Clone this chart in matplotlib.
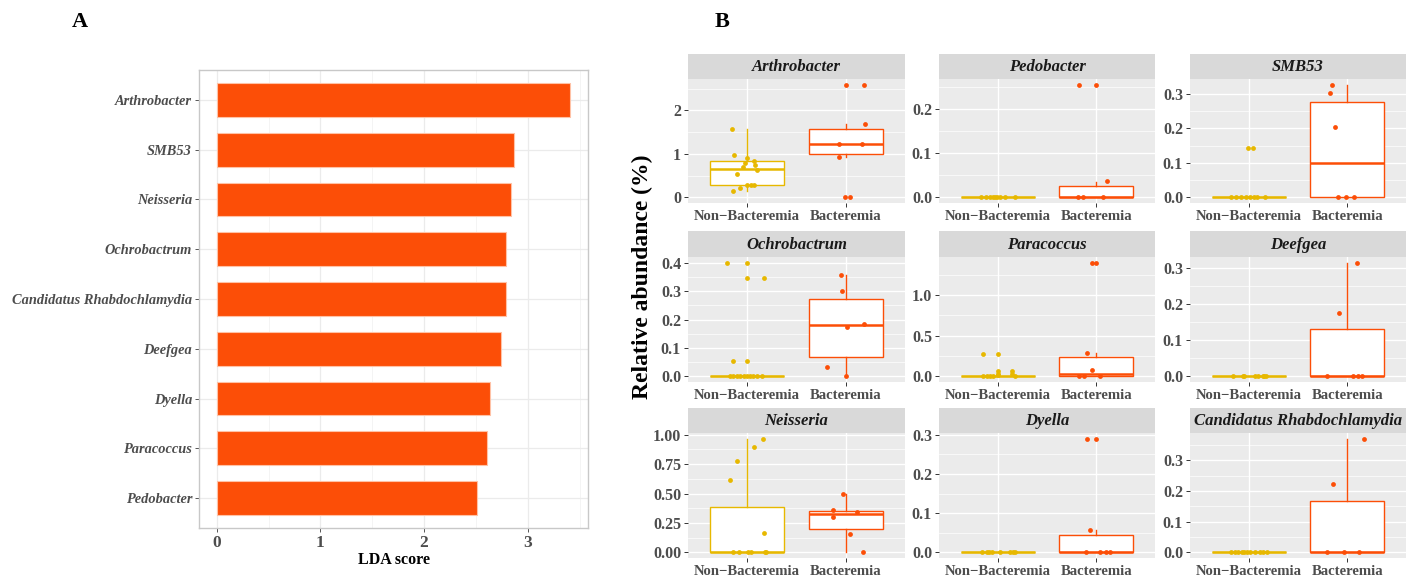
import numpy as np
import matplotlib
matplotlib.use("Agg")
import matplotlib.pyplot as plt

plt.rcParams['font.family'] = ['Liberation Serif', 'DejaVu Serif']

W, H = 1421, 579
ORANGE = '#FC4E07'
GOLD = '#E7B800'
TXT = '#4D4D4D'

# ---- panel A: LDA scores ----
lda_genera = ['Arthrobacter', 'SMB53', 'Neisseria', 'Ochrobactrum',
              'Candidatus Rhabdochlamydia', 'Deefgea', 'Dyella', 'Paracoccus', 'Pedobacter']
lda_scores = [3.41, 2.87, 2.84, 2.79, 2.79, 2.74, 2.64, 2.61, 2.51]

# ---- panel B: relative abundance per genus ----
groups = ['Non\u2212Bacteremia', 'Bacteremia']
facet_genera = ['Arthrobacter', 'Pedobacter', 'SMB53',
                'Ochrobactrum', 'Paracoccus', 'Deefgea',
                'Neisseria', 'Dyella', 'Candidatus Rhabdochlamydia']

# box stats: [lower whisker, q1, median, q3, upper whisker]
box_nonbac = {
    'Arthrobacter': [0.155, 0.275, 0.66, 0.83, 1.57],
    'Pedobacter': [0, 0, 0, 0, 0],
    'SMB53': [0, 0, 0, 0, 0],
    'Ochrobactrum': [0, 0, 0, 0, 0],
    'Paracoccus': [0, 0, 0, 0.01, 0.015],
    'Deefgea': [0, 0, 0, 0, 0],
    'Neisseria': [0, 0, 0, 0.389, 0.966],
    'Dyella': [0, 0, 0, 0, 0],
    'Candidatus Rhabdochlamydia': [0, 0, 0, 0, 0],
}
box_bac = {
    'Arthrobacter': [0.93, 1.0, 1.225, 1.57, 1.69],
    'Pedobacter': [0, 0, 0, 0.026, 0.035],
    'SMB53': [0, 0, 0.1, 0.277, 0.327],
    'Ochrobactrum': [0, 0.068, 0.179, 0.273, 0.356],
    'Paracoccus': [0, 0.004, 0.033, 0.242, 0.29],
    'Deefgea': [0, 0, 0, 0.131, 0.314],
    'Neisseria': [0, 0.194, 0.323, 0.354, 0.5],
    'Dyella': [0, 0, 0, 0.043, 0.056],
    'Candidatus Rhabdochlamydia': [0, 0, 0, 0.166, 0.37],
}

# jittered sample points (horizontal offset from the group centre, value)
nonbac_dx = {
    'Arthrobacter': [-0.15, -0.135, 0, -0.02, 0.065, -0.045, 0.08, 0.1, -0.105, -0.07, -0.145, 0, 0.04, 0.065],
    'Pedobacter': [-0.17, -0.12, -0.08, -0.05, -0.03, -0.01, 0.02, 0.07, 0.17],
    'SMB53': [-0.18, -0.13, -0.085, -0.03, 0.01, 0.05, 0.08, 0.16, -0.005, 0.045],
    'Ochrobactrum': [-0.2, 0, 0, 0.17, -0.14, 0, -0.17, -0.14, -0.105, -0.07, -0.037, -0.003, 0.03, 0.064, 0.098, 0.149],
    'Paracoccus': [-0.15, 0, -0.155, -0.115, -0.08, -0.047, 0.17, 0, 0, 0, 0.145, 0.145],
    'Deefgea': [-0.16, -0.065, -0.05, 0.065, 0.095, 0.14, 0.155, 0.17],
    'Neisseria': [-0.17, -0.1, 0.07, 0.165, 0.17, -0.14, -0.08, 0.005, 0.035, 0.18, 0.19],
    'Dyella': [-0.166, -0.108, -0.088, -0.064, 0.02, 0.122, 0.149, 0.173],
    'Candidatus Rhabdochlamydia': [-0.183, -0.142, -0.108, -0.075, -0.047, -0.024, 0.01, 0.061, 0.112, 0.146, 0.18],
}
nonbac_y = {
    'Arthrobacter': [1.57, 0.965, 0.90, 0.80, 0.84, 0.70, 0.735, 0.635, 0.535, 0.215, 0.155, 0.275, 0.275, 0.275],
    'Pedobacter': [0, 0, 0, 0, 0, 0, 0, 0, 0],
    'SMB53': [0, 0, 0, 0, 0, 0, 0, 0, 0.142, 0.142],
    'Ochrobactrum': [0.4, 0.4, 0.345, 0.345, 0.053, 0.053, 0, 0, 0, 0, 0, 0, 0, 0, 0, 0],
    'Paracoccus': [0.279, 0.279, 0, 0, 0, 0, 0, 0.062, 0.033, 0.012, 0.062, 0.033],
    'Deefgea': [0, 0, 0, 0, 0, 0, 0, 0],
    'Neisseria': [0.617, 0.78, 0.897, 0.966, 0.163, 0, 0, 0, 0, 0, 0],
    'Dyella': [0, 0, 0, 0, 0, 0, 0, 0],
    'Candidatus Rhabdochlamydia': [0, 0, 0, 0, 0, 0, 0, 0, 0, 0, 0],
}
bac_dx = {
    'Arthrobacter': [0, 0.185, 0.195, -0.065, 0.165, -0.07, -0.007, 0.045],
    'Pedobacter': [-0.17, 0, 0.115, -0.18, -0.13, 0.07],
    'SMB53': [-0.15, -0.17, -0.125, -0.09, -0.015, 0.07],
    'Ochrobactrum': [-0.05, -0.035, 0.01, 0.18, -0.195, 0],
    'Paracoccus': [-0.037, 0, -0.09, -0.037, -0.176, -0.125, 0.037],
    'Deefgea': [0.1, -0.08, -0.2, 0.06, 0.11, 0.15],
    'Neisseria': [-0.03, -0.13, -0.13, 0.11, 0.045, 0.175],
    'Dyella': [-0.095, 0, -0.058, -0.105, 0.044, 0.105, 0.139],
    'Candidatus Rhabdochlamydia': [0.176, -0.139, -0.2, -0.03, 0.12],
}
bac_y = {
    'Arthrobacter': [2.59, 2.59, 1.69, 1.225, 1.225, 0.93, 0, 0],
    'Pedobacter': [0.255, 0.255, 0.036, 0, 0, 0],
    'SMB53': [0.327, 0.303, 0.203, 0, 0, 0],
    'Ochrobactrum': [0.356, 0.302, 0.172, 0.185, 0.032, 0],
    'Paracoccus': [1.40, 1.40, 0.29, 0.083, 0, 0, 0],
    'Deefgea': [0.314, 0.175, 0, 0, 0, 0],
    'Neisseria': [0.5, 0.36, 0.3, 0.343, 0.157, 0],
    'Dyella': [0.29, 0.29, 0.058, 0, 0, 0, 0],
    'Candidatus Rhabdochlamydia': [0.37, 0.221, 0, 0, 0],
}
y_ticks = {
    'Arthrobacter': ['0', '1', '2'],
    'Pedobacter': ['0.0', '0.1', '0.2'],
    'SMB53': ['0.0', '0.1', '0.2', '0.3'],
    'Ochrobactrum': ['0.0', '0.1', '0.2', '0.3', '0.4'],
    'Paracoccus': ['0.0', '0.5', '1.0'],
    'Deefgea': ['0.0', '0.1', '0.2', '0.3'],
    'Neisseria': ['0.00', '0.25', '0.50', '0.75', '1.00'],
    'Dyella': ['0.0', '0.1', '0.2', '0.3'],
    'Candidatus Rhabdochlamydia': ['0.0', '0.1', '0.2', '0.3'],
}


def px_axes(fig, l, t, r, b):
    return fig.add_axes([l / W, 1 - b / H, (r - l) / W, (b - t) / H])


fig = plt.figure(figsize=(W / 100, H / 100), dpi=100)

# ---------------- panel A ----------------
axA = px_axes(fig, 199, 70, 588, 528)
ypos = np.arange(len(lda_genera))[::-1] + 1
axA.barh(ypos, lda_scores, height=0.68, color=ORANGE, edgecolor='#FFC2A6', linewidth=0.8, zorder=3)
axA.set_xlim(-0.05 * max(lda_scores), 1.05 * max(lda_scores))
axA.set_ylim(0.4, len(lda_genera) + 0.6)
axA.set_xticks([0, 1, 2, 3])
axA.set_xticks([0.5, 1.5, 2.5, 3.5], minor=True)
axA.set_yticks(ypos)
axA.set_yticklabels(lda_genera, fontsize=10.4, fontweight='bold', fontstyle='italic', color=TXT)
axA.set_xticklabels(['0', '1', '2', '3'], fontsize=12.5, fontweight='bold', color=TXT)
axA.grid(True, which='major', color='#EBEBEB', linewidth=0.9, zorder=0)
axA.grid(True, which='minor', axis='x', color='#F2F2F2', linewidth=0.6, zorder=0)
axA.set_axisbelow(True)
axA.tick_params(which='major', length=3, width=0.7, color='#555555', pad=2)
axA.tick_params(which='minor', length=0)
for s in axA.spines.values():
    s.set_color('#C8C8C8')
    s.set_linewidth(1.0)
axA.set_xlabel('LDA score', fontsize=11.5, fontweight='bold', labelpad=1)

fig.text(80 / W, 1 - 22 / H, 'A', fontsize=16, fontweight='bold', ha='center', va='center')
fig.text(722 / W, 1 - 22 / H, 'B', fontsize=16, fontweight='bold', ha='center', va='center')

# ---------------- panel B ----------------
cols = [(688, 905), (939, 1155), (1190, 1406)]
rows = [(54, 79, 203), (231, 257, 382), (408, 433, 558)]

for i, name in enumerate(facet_genera):
    l, r = cols[i % 3]
    st, sb, pb = rows[i // 3]

    # facet strip
    axs = px_axes(fig, l, st, r, sb)
    axs.set_facecolor('#D9D9D9')
    axs.set_xticks([])
    axs.set_yticks([])
    for s in axs.spines.values():
        s.set_visible(False)
    axs.text(0.5, 0.48, name, transform=axs.transAxes, ha='center', va='center',
             fontsize=12, fontweight='bold', fontstyle='italic', color='#1A1A1A')

    ax = px_axes(fig, l, sb, r, pb)
    ax.set_facecolor('#EBEBEB')
    for s in ax.spines.values():
        s.set_visible(False)

    stats = []
    for bx in (box_nonbac[name], box_bac[name]):
        stats.append(dict(whislo=bx[0], q1=bx[1], med=bx[2], q3=bx[3], whishi=bx[4]))
    bp = ax.bxp(stats, positions=[1, 2], widths=0.75, patch_artist=True,
                showfliers=False, showcaps=False, manage_ticks=False, zorder=3)
    for k, c in enumerate([GOLD, ORANGE]):
        bp['boxes'][k].set(facecolor='white', edgecolor=c, linewidth=1.0)
        bp['medians'][k].set(color=c, linewidth=1.8)
        for w in bp['whiskers'][2 * k:2 * k + 2]:
            w.set(color=c, linewidth=1.0)

    ax.scatter(1 + np.array(nonbac_dx[name]), nonbac_y[name], s=12, color=GOLD,
               linewidths=0, zorder=4)
    ax.scatter(2 + np.array(bac_dx[name]), bac_y[name], s=12, color=ORANGE,
               linewidths=0, zorder=4)

    top = max(max(nonbac_y[name]), max(bac_y[name]), box_nonbac[name][4], box_bac[name][4])
    ax.set_ylim(-0.05 * top, 1.05 * top)
    ax.set_xlim(0.4, 2.6)

    labels = y_ticks[name]
    ticks = [float(t) for t in labels]
    ax.set_yticks(ticks)
    ax.set_yticklabels(labels, fontsize=11.5, fontweight='bold', color=TXT)
    step = ticks[1] - ticks[0]
    minors = [t + step / 2 for t in [ticks[0] - step] + ticks]
    minors = [m for m in minors if -0.05 * top < m < 1.05 * top]
    ax.set_yticks(minors, minor=True)
    ax.set_xticks([1, 2])
    ax.set_xticklabels(groups, fontsize=10.6, fontweight='bold', color=TXT)
    ax.grid(True, which='major', color='white', linewidth=1.0, zorder=0)
    ax.grid(True, which='minor', axis='y', color='white', linewidth=0.5, zorder=0)
    ax.set_axisbelow(True)
    ax.tick_params(which='major', length=3, width=0.7, color='#333333', pad=2)
    ax.tick_params(which='minor', length=0)

fig.text(642 / W, 1 - 277 / H, 'Relative abundance (%)', rotation=90, ha='center', va='center',
         fontsize=17, fontweight='bold')

fig.savefig('out.png', dpi=100)
